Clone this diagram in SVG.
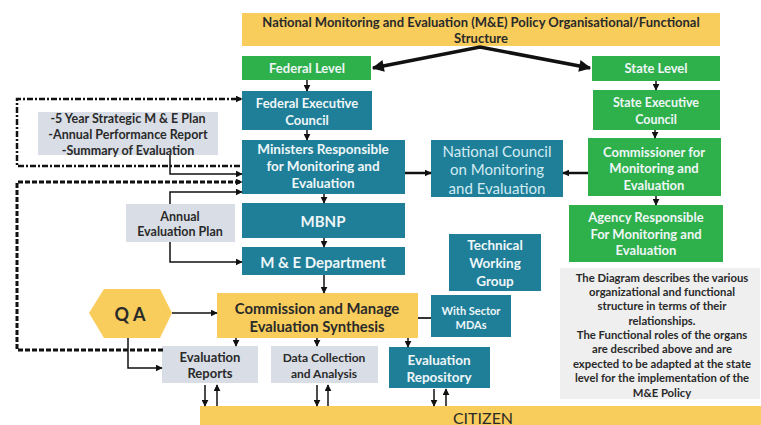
<svg xmlns="http://www.w3.org/2000/svg" width="761" height="425" viewBox="0 0 761 425">
<defs>
<marker id="ah" viewBox="0 0 10 10" refX="9" refY="5" markerWidth="7" markerHeight="7" markerUnits="userSpaceOnUse" orient="auto-start-reverse"><path d="M0,0 L10,5 L0,10 z" fill="#111"/></marker>
<marker id="ahb" viewBox="0 0 10 10" refX="9" refY="5" markerWidth="14" markerHeight="12" markerUnits="userSpaceOnUse" orient="auto-start-reverse"><path d="M0,0 L10,5 L0,10 z" fill="#111"/></marker>
<style>
.t{fill:#1f7f99}
.g{fill:#2eb04b}
.y{fill:#f8cd5c}
.gr{fill:#d9dee6}
text{font-family:Lato,"Liberation Sans",sans-serif;font-weight:bold;text-anchor:middle;dominant-baseline:central}
.w{fill:#eef6f8}
.d{fill:#2a2a2a}
.ln{fill:none;stroke:#111;stroke-width:1.5}
</style>
</defs>
<rect width="761" height="425" fill="#fff"/>

<g id="title"><rect class="y" x="242" y="13" width="478" height="33"/>
<text class="d" x="481" y="22" font-size="13">National Monitoring and Evaluation (M&amp;E) Policy Organisational/Functional</text>
<text class="d" x="481" y="38" font-size="13">Structure</text></g>

<g id="federal-level"><rect class="g" x="242" y="56" width="129" height="24"/><text class="w" x="307" y="68" font-size="13">Federal Level</text></g>
<g id="federal-exec"><rect class="t" x="242" y="91" width="130" height="39"/><text class="w" x="307" y="103" font-size="13">Federal Executive</text><text class="w" x="307" y="120" font-size="13">Council</text></g>
<g id="ministers"><rect class="t" x="242" y="140" width="163" height="54"/><text class="w" x="323" y="149" font-size="13.5">Ministers Responsible</text><text class="w" x="323" y="166" font-size="13.5">for Monitoring and</text><text class="w" x="323" y="183" font-size="13.5">Evaluation</text></g>
<g id="mbnp"><rect class="t" x="242" y="203" width="163" height="35"/><text class="w" x="323" y="221" font-size="15">MBNP</text></g>
<g id="me-dept"><rect class="t" x="242" y="247" width="163" height="28"/><text class="w" x="323" y="262" font-size="15">M &amp; E Department</text></g>
<g id="commission"><rect class="y" x="217" y="293" width="201" height="45"/><text class="d" x="317" y="308" font-size="14.8">Commission and Manage</text><text class="d" x="317" y="326" font-size="14.8">Evaluation Synthesis</text></g>
<g id="sector-mdas"><rect class="t" x="431" y="295" width="80" height="42"/><text class="w" x="471" y="310" font-size="11">With Sector</text><text class="w" x="471" y="324" font-size="11">MDAs</text></g>
<g id="twg"><rect class="t" x="449" y="234" width="92" height="57"/><text class="w" x="495" y="245" font-size="13.5">Technical</text><text class="w" x="495" y="263" font-size="13.5">Working</text><text class="w" x="495" y="281" font-size="13.5">Group</text></g>
<g id="repository"><rect class="t" x="389" y="347" width="101" height="41"/><text class="w" x="439" y="360" font-size="13.5">Evaluation</text><text class="w" x="439" y="377" font-size="13.5">Repository</text></g>
<g id="data-collection"><rect class="gr" x="271" y="346" width="107" height="37"/><text class="d" x="324" y="357" font-size="12">Data Collection</text><text class="d" x="324" y="373" font-size="12">and Analysis</text></g>
<g id="eval-reports"><rect class="gr" x="162" y="346" width="96" height="37"/><text class="d" x="210" y="357" font-size="13">Evaluation</text><text class="d" x="210" y="373" font-size="13">Reports</text></g>
<g id="qa"><polygon class="y" points="89,313 104,289 160,289 172,313 160,338 104,338"/><text class="d" x="130" y="314" font-size="18">Q A</text></g>
<g id="citizen"><rect class="y" x="200" y="406" width="561" height="19"/><text x="483" y="417" font-size="16" style="font-weight:normal;fill:#2a2a2a">CITIZEN</text></g>
<g id="national-council"><rect class="t" x="431" y="140" width="132" height="57"/><text x="497" y="151" font-size="15" style="font-weight:normal;fill:#d2ebf2">National Council</text><text x="497" y="169" font-size="15" style="font-weight:normal;fill:#d2ebf2">on Monitoring</text><text x="497" y="188" font-size="15" style="font-weight:normal;fill:#d2ebf2">and Evaluation</text></g>
<g id="state-level"><rect class="g" x="592" y="56" width="128" height="25"/><text class="w" x="656" y="68" font-size="13">State Level</text></g>
<g id="state-exec"><rect class="g" x="593" y="90" width="127" height="40"/><text class="w" x="656" y="102" font-size="12.5">State Executive</text><text class="w" x="656" y="119" font-size="12.5">Council</text></g>
<g id="commissioner"><rect class="g" x="588" y="138" width="133" height="58"/><text class="w" x="654" y="152" font-size="13">Commissioner for</text><text class="w" x="654" y="168" font-size="13">Monitoring and</text><text class="w" x="654" y="185" font-size="13">Evaluation</text></g>
<g id="agency"><rect class="g" x="569" y="205" width="154" height="57"/><text class="w" x="646" y="217" font-size="13">Agency Responsible</text><text class="w" x="646" y="234" font-size="13">For Monitoring and</text><text class="w" x="646" y="250" font-size="13">Evaluation</text></g>
<g id="five-year"><rect class="gr" x="38" y="112" width="180" height="43"/><text class="d" x="128" y="118" font-size="12.5">-5 Year Strategic M &amp; E Plan</text><text class="d" x="128" y="134" font-size="12.5">-Annual Performance Report</text><text class="d" x="128" y="150" font-size="12.5">-Summary of Evaluation</text></g>
<g id="annual-plan"><rect class="gr" x="126" y="204" width="109" height="38"/><text class="d" x="180" y="216" font-size="12.5">Annual</text><text class="d" x="180" y="231" font-size="12.5">Evaluation Plan</text></g>
<g id="note"><rect x="560" y="268" width="200" height="131" fill="#efefef"/>
<g font-size="11.3" class="d">
<text x="662" y="277">The Diagram describes the various</text>
<text x="662" y="291">organizational and functional</text>
<text x="662" y="305">structure in terms of their</text>
<text x="662" y="320">relationships.</text>
<text x="662" y="334">The Functional roles of the organs</text>
<text x="662" y="348">are described above and are</text>
<text x="662" y="363">expected to be adapted at the state</text>
<text x="662" y="377">level for the implementation of the</text>
<text x="662" y="392">M&amp;E Policy</text>
</g></g>

<g id="connectors">
<path d="M373,68 L480,47 L590,68" fill="none" stroke="#111" stroke-width="3.5" marker-start="url(#ahb)" marker-end="url(#ahb)"/>
<path class="ln" d="M307,80 V91" marker-end="url(#ah)"/>
<path class="ln" d="M307,130 V140" marker-end="url(#ah)"/>
<path class="ln" d="M324,194 V203" marker-end="url(#ah)"/>
<path class="ln" d="M324,238 V247" marker-end="url(#ah)"/>
<path class="ln" d="M324,275 V293" marker-end="url(#ah)"/>
<path class="ln" d="M656,81 V90" marker-end="url(#ah)"/>
<path class="ln" d="M655,130 V138" marker-end="url(#ah)"/>
<path class="ln" d="M656,196 V205" marker-end="url(#ah)"/>
<path d="M405,173 H431" fill="none" stroke="#111" stroke-width="2.5" marker-end="url(#ah)"/>
<path d="M588,173 H563" fill="none" stroke="#111" stroke-width="2.5" marker-end="url(#ah)"/>
<path class="ln" d="M236,338 V346" marker-end="url(#ah)"/>
<path class="ln" d="M317,338 V346" marker-end="url(#ah)"/>
<path class="ln" d="M408,338 V347" marker-end="url(#ah)"/>
<path d="M418,318 H431" fill="none" stroke="#333" stroke-width="2"/>
<path class="ln" d="M172,313 H217" marker-end="url(#ah)"/>
<path class="ln" d="M128,338 V368 H162" marker-end="url(#ah)"/>
<path class="ln" d="M205,385 V406" marker-end="url(#ah)"/>
<path class="ln" d="M217,406 V385" marker-end="url(#ah)"/>
<path class="ln" d="M317,385 V406" marker-end="url(#ah)"/>
<path class="ln" d="M328,406 V385" marker-end="url(#ah)"/>
<path class="ln" d="M434,389 V406" marker-end="url(#ah)"/>
<path class="ln" d="M446,406 V389" marker-end="url(#ah)"/>
<path d="M240,166 H17 V99 H242" fill="none" stroke="#111" stroke-width="2.5" stroke-dasharray="6 2 2 2" marker-end="url(#ah)"/>
<path d="M163,350 H17 V182 H242" fill="none" stroke="#111" stroke-width="3" stroke-dasharray="5 2" marker-end="url(#ah)"/>
<path class="ln" d="M170,155 V174 H242" marker-end="url(#ah)"/>
<path class="ln" d="M170,204 V192 H242" marker-end="url(#ah)"/>
<path class="ln" d="M170,242 V262 H242" marker-end="url(#ah)"/>
</g>
</svg>
